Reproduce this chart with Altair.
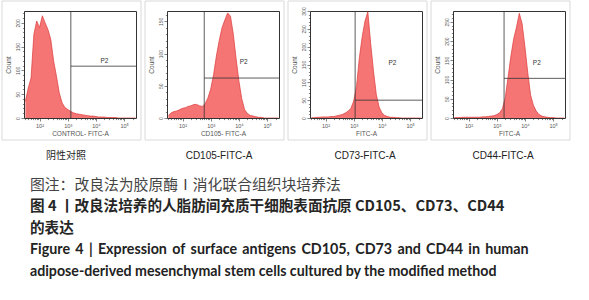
import altair as alt
import pandas as pd
import numpy as np

# ---------------- data ----------------
log_bins = [1.5, 1.6, 1.7, 1.8, 1.9, 2.0, 2.1, 2.2, 2.3, 2.4,
            2.5, 2.6, 2.7, 2.8, 2.9, 3.0, 3.1, 3.2, 3.3, 3.4,
            3.5, 3.6, 3.7, 3.8, 3.9, 4.0, 4.1, 4.2, 4.3, 4.4,
            4.5, 4.6, 4.7, 4.8, 4.9, 5.0, 5.1, 5.2, 5.3, 5.4]

counts_control = [35, 63, 84, 176, 204, 190, 215, 200, 186, 165,
                  120, 88, 53, 32, 22, 18, 14, 11, 9, 8,
                  7, 6, 5, 4, 4, 3, 2, 2, 2, 1,
                  1, 1, 1, 0, 0, 0, 0, 0, 0, 0]
counts_cd105 = [4, 8, 10, 11, 13, 15, 16, 18, 19, 21,
                21, 19, 18, 22, 31, 45, 67, 96, 120, 140,
                152, 163, 158, 130, 92, 57, 30, 13, 7, 4,
                3, 2, 1, 1, 0, 0, 0, 0, 0, 0]
counts_cd73 = [1, 1, 2, 2, 3, 3, 3, 4, 4, 6,
               8, 10, 14, 19, 27, 48, 90, 169, 228, 272,
               298, 210, 132, 66, 31, 14, 7, 4, 2, 2,
               1, 1, 0, 0, 0, 0, 0, 0, 0, 0]
counts_cd44 = [1, 1, 1, 2, 2, 2, 2, 2, 2, 2,
               3, 3, 4, 5, 6, 9, 13, 24, 52, 105,
               160, 205, 236, 272, 245, 185, 118, 60, 33, 18,
               9, 5, 3, 2, 1, 1, 0, 0, 0, 0]

panel_counts = [counts_control, counts_cd105, counts_cd73, counts_cd44]
panel_ymax = [225, 166, 300, 278]
panel_xtitles = ["CONTROL- FITC-A", "CD105- FITC-A", "FITC-A", "FITC-A"]
panel_names = ["阴性对照", "CD105-FITC-A", "CD73-FITC-A", "CD44-FITC-A"]
gate_x = [3.11, 2.77, 3.05, 3.26]
gate_y = [109, 62, 50, 103]
p2_x = [4.3, 4.17, 4.37, 4.42]
p2_y = [120, 87, 155, 144]
title_dx = [-14, -4, -1, -6]

x_domain = [1.45, 5.42]
x_major = [2, 3, 4, 5]
x_major_labels = ["10²", "10³", "10⁴", "10⁵"]

caption_note = ["图注：改良法为胶原酶Ⅰ消化联合组织块培养法"]
caption_cn = ["图 4 丨改良法培养的人脂肪间充质干细胞表面抗原 CD105、CD73、CD44", "的表达"]
caption_en = ["Figure 4 | Expression of surface antigens CD105, CD73 and CD44 in human",
              "adipose-derived mesenchymal stem cells cultured by the modified method"]

# ---------------- style ----------------
FILL = "#f57474"
EDGE = "#dc3a3a"
FRAME = "#333333"
AX_LABEL = "#555555"
BOX = "#d9d9d9"

minor_x = [round(n + np.log10(k), 4) for n in range(1, 6) for k in range(2, 10)]
minor_x = [v for v in minor_x if x_domain[0] <= v <= x_domain[1]]
x_label_expr = ("datum.value == 2 ? '" + x_major_labels[0] + "' : datum.value == 3 ? '" +
                x_major_labels[1] + "' : datum.value == 4 ? '" + x_major_labels[2] +
                "' : '" + x_major_labels[3] + "'")

common_axis = dict(domain=False, grid=False, tickColor=FRAME, tickWidth=0.6,
                   labelOverlap=False, labelFlush=False)


def make_panel(i):
    ymax = panel_ymax[i]
    y_major = list(range(0, ymax + 1, 50))
    y_minor = [v for v in range(0, ymax + 1, 10) if v % 50 != 0]
    xs = alt.Scale(domain=x_domain, nice=False, zero=False)
    ys = alt.Scale(domain=[0, ymax], nice=False)
    xaxis = alt.Axis(
        title=panel_xtitles[i], values=x_major, labelExpr=x_label_expr, orient="bottom",
        labelFontSize=5.5, labelFont="Liberation Sans", labelColor=AX_LABEL,
        titleFontSize=6.5, titleFont="Liberation Sans", titleFontWeight="normal",
        titleColor=AX_LABEL, titlePadding=2, labelPadding=2, tickSize=3, **common_axis,
    )
    yaxis = alt.Axis(
        title="Count", values=y_major, orient="left",
        labelAngle=270, labelFontSize=5, labelFont="Liberation Sans", labelColor=AX_LABEL,
        titleFontSize=6.5, titleFont="Liberation Sans", titleFontWeight="normal",
        titleColor=AX_LABEL, titlePadding=3, labelPadding=1, tickSize=3,
        minExtent=10, maxExtent=10, **common_axis,
    )
    xminor = alt.Axis(values=minor_x, labels=False, title=None, orient="bottom",
                      tickSize=1.6, **common_axis)
    yminor = alt.Axis(values=y_minor, labels=False, title=None, orient="left",
                      tickSize=1.6, **common_axis)

    hist = pd.DataFrame({"L": log_bins, "count": panel_counts[i]})
    # light grey frame of the original flow-cytometry image
    box = alt.Chart(pd.DataFrame({"k": [0]})).mark_rect(
        fill=None, stroke=BOX, strokeWidth=1
    ).encode(x=alt.value(-22), x2=alt.value(117), y=alt.value(-10), y2=alt.value(129))
    area = alt.Chart(hist).mark_area(
        color=FILL, opacity=1, clip=True, interpolate="linear",
        line={"color": EDGE, "strokeWidth": 0.7},
    ).encode(
        x=alt.X("L:Q", scale=xs, axis=xaxis),
        y=alt.Y("count:Q", scale=ys, axis=yaxis),
    )
    vline = alt.Chart(pd.DataFrame({"L": [gate_x[i]], "count": [0], "count2": [ymax]})).mark_rule(
        color=FRAME, strokeWidth=0.8
    ).encode(x=alt.X("L:Q", axis=xminor), y=alt.Y("count:Q", axis=yminor), y2="count2:Q")
    hline = alt.Chart(pd.DataFrame({"L": [gate_x[i]], "L2": [x_domain[1]], "count": [gate_y[i]]})).mark_rule(
        color=FRAME, strokeWidth=0.8
    ).encode(x=alt.X("L:Q", axis=None), x2="L2:Q", y=alt.Y("count:Q", axis=None))
    p2 = alt.Chart(pd.DataFrame({"L": [p2_x[i]], "count": [p2_y[i]], "t": ["P2"]})).mark_text(
        fontSize=6.5, font="Liberation Sans", color="#333333"
    ).encode(x=alt.X("L:Q", axis=None), y=alt.Y("count:Q", axis=None), text="t:N")
    return alt.layer(area, vline, hline, p2, box).resolve_axis(
        x="independent", y="independent"
    ).properties(
        width=112, height=107,
        view=alt.ViewBackground(stroke=FRAME, strokeWidth=1),
        title=alt.TitleParams(
            panel_names[i], orient="bottom", anchor="middle", fontSize=10,
            font="Liberation Sans, Noto Sans CJK SC", fontWeight="normal",
            color="#222222", offset=10, dx=title_dx[i],
        ),
    )


row = alt.hconcat(*[make_panel(i) for i in range(4)], spacing=2)

# ---------------- caption ----------------
cap_note = pd.DataFrame({"row": [1], "t": caption_note})
cap_cn = pd.DataFrame({"row": [2, 3], "t": caption_cn})
cap_en1 = pd.DataFrame({"row": [4], "t": [caption_en[0].replace(" ", "\u2009 ")]})
cap_en2 = pd.DataFrame({"row": [5], "t": [caption_en[1]]})
cy = alt.Scale(domain=[0.07, 6.07], reverse=True)


def cap_layer(df, font, weight, size, color):
    return alt.Chart(df).mark_text(
        align="left", baseline="middle", font=font, fontWeight=weight,
        fontSize=size, color=color,
    ).encode(
        x=alt.value(6),
        y=alt.Y("row:Q", scale=cy, axis=None),
        text="t:N",
    )


caption = alt.layer(
    cap_layer(cap_note, "Noto Sans CJK SC", "normal", 14.8, "#444444"),
    cap_layer(cap_cn, "Noto Sans CJK SC", "bold", 14.6, "#262626"),
    cap_layer(cap_en1, "Lato", "bold", 14.3, "#222222"),
    cap_layer(cap_en2, "Lato", "bold", 14.2, "#222222"),
).properties(width=560, height=129)

chart = alt.vconcat(row, caption, spacing=5).properties(
    padding={"left": 1, "top": 0, "right": 0, "bottom": 0},
    background="white",
).configure_view(stroke=None)

chart.save("out.html", embed_options={"renderer": "svg", "actions": False})
